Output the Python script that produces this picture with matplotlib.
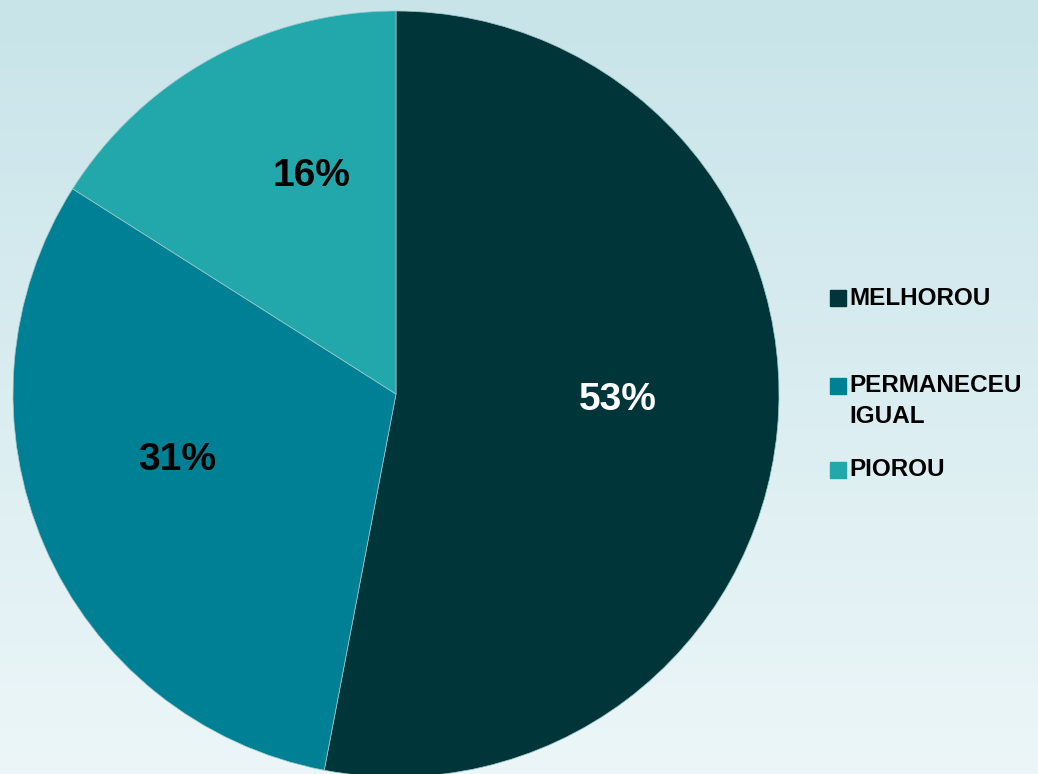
import numpy as np
import matplotlib
matplotlib.use("Agg")
import matplotlib.pyplot as plt

categories = ["MELHOROU", "PERMANECEU\nIGUAL", "PIOROU"]
values = [53, 31, 16]
colors = ["#003639", "#008094", "#22a8aa"]
label_colors = ["white", "black", "black"]

plt.rcParams["font.family"] = ["Liberation Sans", "DejaVu Sans"]

W, H, DPI = 1038, 774, 100
fig = plt.figure(figsize=(W / DPI, H / DPI), dpi=DPI)

# vertical background gradient
bg = fig.add_axes([0, 0, 1, 1])
grad = np.linspace(0, 1, 256).reshape(-1, 1)
top = np.array([0xc8, 0xe4, 0xe9]) / 255
bot = np.array([0xec, 0xf6, 0xf8]) / 255
img = top[None, None, :] * (1 - grad[:, :, None]) + bot[None, None, :] * grad[:, :, None]
bg.imshow(img, aspect="auto", extent=[0, 1, 0, 1], origin="upper")
bg.set_axis_off()

# pie axes: centre (396, 394) px, radius 383 px
cx, cy, r = 396, 394, 383
ax = fig.add_axes([(cx - r) / W, (H - cy - r) / H, 2 * r / W, 2 * r / H])
wedges, _ = ax.pie(values, colors=colors, startangle=90, counterclock=False,
                   radius=1.0, wedgeprops=dict(edgecolor="#9fc9cc", linewidth=0.5))
ax.set_xlim(-1, 1)
ax.set_ylim(-1, 1)
ax.set_aspect("auto")
ax.set_axis_off()

# value labels inside the slices
label_pos = [(0.580, -0.016), (-0.572, -0.172), (-0.222, 0.569)]
for v, lc, (lx, ly) in zip(values, label_colors, label_pos):
    ax.text(lx, ly, f"{v}%", ha="center", va="center",
            fontsize=28, fontweight="bold", color=lc)

# legend
legend_y = [298, 386, 470]
for cat, col, ly in zip(categories, colors, legend_y):
    fig.patches.append(plt.Rectangle((830 / W, (H - ly - 8) / H), 16 / W, 16 / H,
                                     transform=fig.transFigure, color=col))
    nlines = cat.count("\n")
    yc = ly + nlines * 15
    fig.text(849 / W, (H - yc) / H, cat, ha="left", va="center",
             fontsize=17.5, fontweight="bold", color="black", linespacing=1.45)

fig.savefig("out.png", dpi=DPI)
